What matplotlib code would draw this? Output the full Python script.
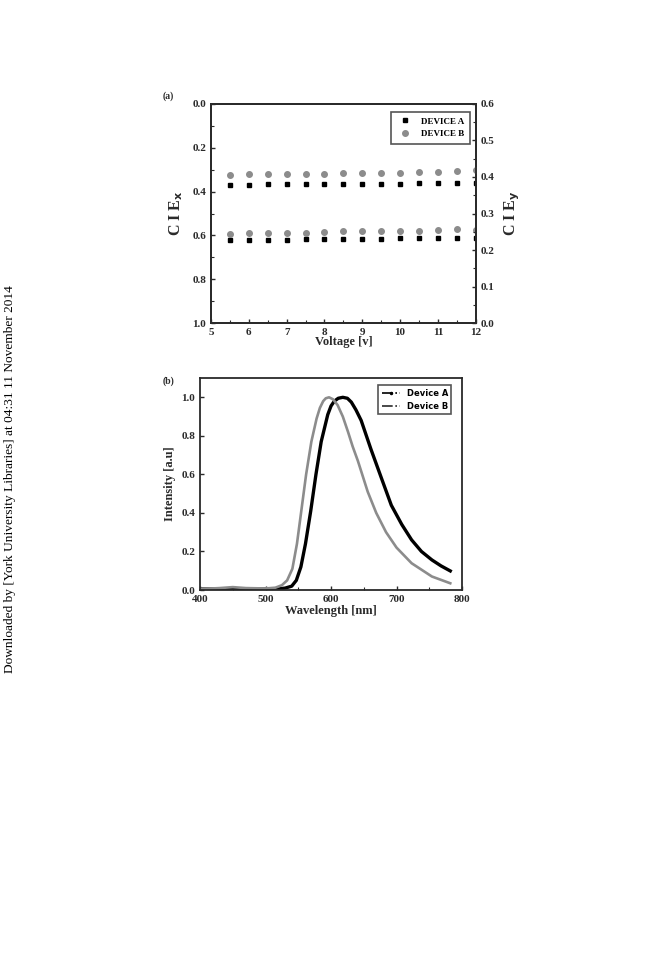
import matplotlib
matplotlib.use("Agg")
import matplotlib.pyplot as plt
from matplotlib.lines import Line2D
from matplotlib.ticker import MultipleLocator

plt.rcParams['font.family'] = ['Liberation Serif', 'DejaVu Serif']

# (a) CIE coordinates vs voltage
volts = [5.5, 6, 6.5, 7, 7.5, 8, 8.5, 9, 9.5, 10, 10.5, 11, 11.5, 12]
cie_x_a = [0.620, 0.620, 0.619, 0.619, 0.618, 0.617, 0.616, 0.615, 0.615, 0.614, 0.614, 0.613, 0.611, 0.612]
cie_x_b = [0.592, 0.590, 0.590, 0.589, 0.589, 0.585, 0.582, 0.582, 0.578, 0.579, 0.578, 0.577, 0.572, 0.575]
cie_y_a = [0.377, 0.379, 0.380, 0.380, 0.381, 0.381, 0.381, 0.382, 0.382, 0.382, 0.383, 0.383, 0.384, 0.384]
cie_y_b = [0.406, 0.408, 0.408, 0.408, 0.408, 0.408, 0.412, 0.412, 0.412, 0.412, 0.415, 0.415, 0.417, 0.418]

# (b) EL spectra
wl_a = [400, 450, 500, 520, 530, 540, 547, 554, 561, 569, 577, 585, 595, 600, 605, 611, 618,
        625, 631, 638, 646, 653, 661, 669, 677, 692, 708, 723, 738, 754, 768, 782]
int_a = [0.005, 0.005, 0.005, 0.006, 0.01, 0.02, 0.05, 0.12, 0.24, 0.41, 0.60, 0.77, 0.91, 0.955, 0.98, 0.995, 1.0,
         0.995, 0.975, 0.935, 0.88, 0.81, 0.73, 0.655, 0.58, 0.44, 0.34, 0.26, 0.20, 0.156, 0.125, 0.099]
wl_b = [400, 430, 450, 470, 500, 515, 525, 533, 541, 548, 555, 562, 570, 578, 583, 588, 592, 597,
        603, 610, 618, 626, 633, 641, 656, 669, 684, 700, 723, 754, 782]
int_b = [0.005, 0.01, 0.015, 0.01, 0.008, 0.012, 0.025, 0.05, 0.11, 0.24, 0.42, 0.60, 0.77, 0.89, 0.945, 0.98, 0.995, 1.0,
         0.99, 0.96, 0.90, 0.82, 0.745, 0.67, 0.51, 0.40, 0.30, 0.22, 0.139, 0.07, 0.035]

dark = '#2a2a2a'
grey = '#8c8c8c'

fig = plt.figure(figsize=(6.72, 9.6), dpi=100)

def style(ax):
    for s in ax.spines.values():
        s.set_color(dark); s.set_linewidth(1.3)
    ax.tick_params(direction='in', colors=dark, labelsize=8, width=1, length=3)
    ax.tick_params(which='minor', direction='in', length=2, width=0.8, colors=dark)
    for lab in ax.get_xticklabels() + ax.get_yticklabels():
        lab.set_fontweight('bold')

# ---- (a)
ax1 = fig.add_axes([0.314, 0.6635, 0.394, 0.2282])
ax1.plot(volts, cie_x_a, 's', color='black', ms=3.5, label='DEVICE A')
ax1.plot(volts, cie_x_b, 'o', color=grey, ms=4, label='DEVICE B')
ax1.set_xlim(5, 12)
ax1.set_ylim(1.0, 0.0)
ax1.xaxis.set_major_locator(MultipleLocator(1))
ax1.xaxis.set_minor_locator(MultipleLocator(0.5))
ax1.yaxis.set_minor_locator(MultipleLocator(0.1))
ax1.set_yticks([0.0, 0.2, 0.4, 0.6, 0.8, 1.0])
ax1.set_yticklabels(['0.0', '0.2', '0.4', '0.6', '0.8', '1.0'])
ax2 = ax1.twinx()
ax2.plot(volts, cie_y_a, 's', color='black', ms=3.5)
ax2.plot(volts, cie_y_b, 'o', color=grey, ms=4)
ax2.set_ylim(0, 0.6)
ax2.yaxis.set_minor_locator(MultipleLocator(0.05))
ax2.set_yticks([0.0, 0.1, 0.2, 0.3, 0.4, 0.5, 0.6])
ax2.set_yticklabels(['0.0', '0.1', '0.2', '0.3', '0.4', '0.5', '0.6'])
for a in (ax1, ax2):
    a.set_xlim(5, 12)
    style(a)
ax1.set_xlabel('Voltage [v]', fontsize=9, fontweight='bold', labelpad=-1, color=dark)
ax1.set_ylabel('C I E$_{\\mathbf{x}}$', fontsize=11.5, fontweight='bold', color=dark, labelpad=5)
ax2.set_ylabel('C I E$_{\\mathbf{y}}$', fontsize=11.5, fontweight='bold', color=dark, labelpad=6)
leg = ax1.legend(loc='upper right', frameon=True, fancybox=False,
                 edgecolor=dark, handletextpad=0.8, borderpad=0.6, bbox_to_anchor=(0.995, 0.985),
                 prop={'weight': 'bold', 'size': 6.5})
leg.get_frame().set_linewidth(1.2)

# ---- (b)
ax3 = fig.add_axes([0.2976, 0.3854, 0.39, 0.2208])
ax3.plot(wl_a, int_a, '-', color='black', lw=2.4)
ax3.plot(wl_b, int_b, '-', color=grey, lw=1.9)
ax3.set_xlim(400, 800)
ax3.set_ylim(0, 1.10)
ax3.xaxis.set_major_locator(MultipleLocator(100))
ax3.xaxis.set_minor_locator(MultipleLocator(50))
ax3.set_yticks([0.0, 0.2, 0.4, 0.6, 0.8, 1.0])
ax3.set_yticklabels(['0.0', '0.2', '0.4', '0.6', '0.8', '1.0'])
style(ax3)
ax3.set_xlabel('Wavelength [nm]', fontsize=9, fontweight='bold', labelpad=1, color=dark)
ax3.set_ylabel('Intensity [a.u]', fontsize=9, fontweight='bold', labelpad=4, color=dark)
handles = [Line2D([], [], color='black', ls='-.', marker='.', ms=3, lw=1.2),
           Line2D([], [], color=dark, ls='-.', lw=1.2)]
leg2 = ax3.legend(handles, ['Device A', 'Device B'], loc='upper right',
                  fancybox=False, edgecolor=dark, handlelength=2.2, borderpad=0.4,
                  bbox_to_anchor=(0.975, 0.985),
                  prop={'family': 'DejaVu Sans', 'size': 6, 'weight': 'bold'})
leg2.get_frame().set_linewidth(1.2)

fig.text(0.242, 0.897, '(a)', fontsize=7, fontweight='bold', color=dark)
fig.text(0.242, 0.600, '(b)', fontsize=7, fontweight='bold', color=dark)
fig.text(0.015, 0.501, 'Downloaded by [York University Libraries] at 04:31 11 November 2014',
         rotation=90, ha='center', va='center', fontsize=9.6, family='Liberation Serif')

fig.savefig('out.png', dpi=100)
